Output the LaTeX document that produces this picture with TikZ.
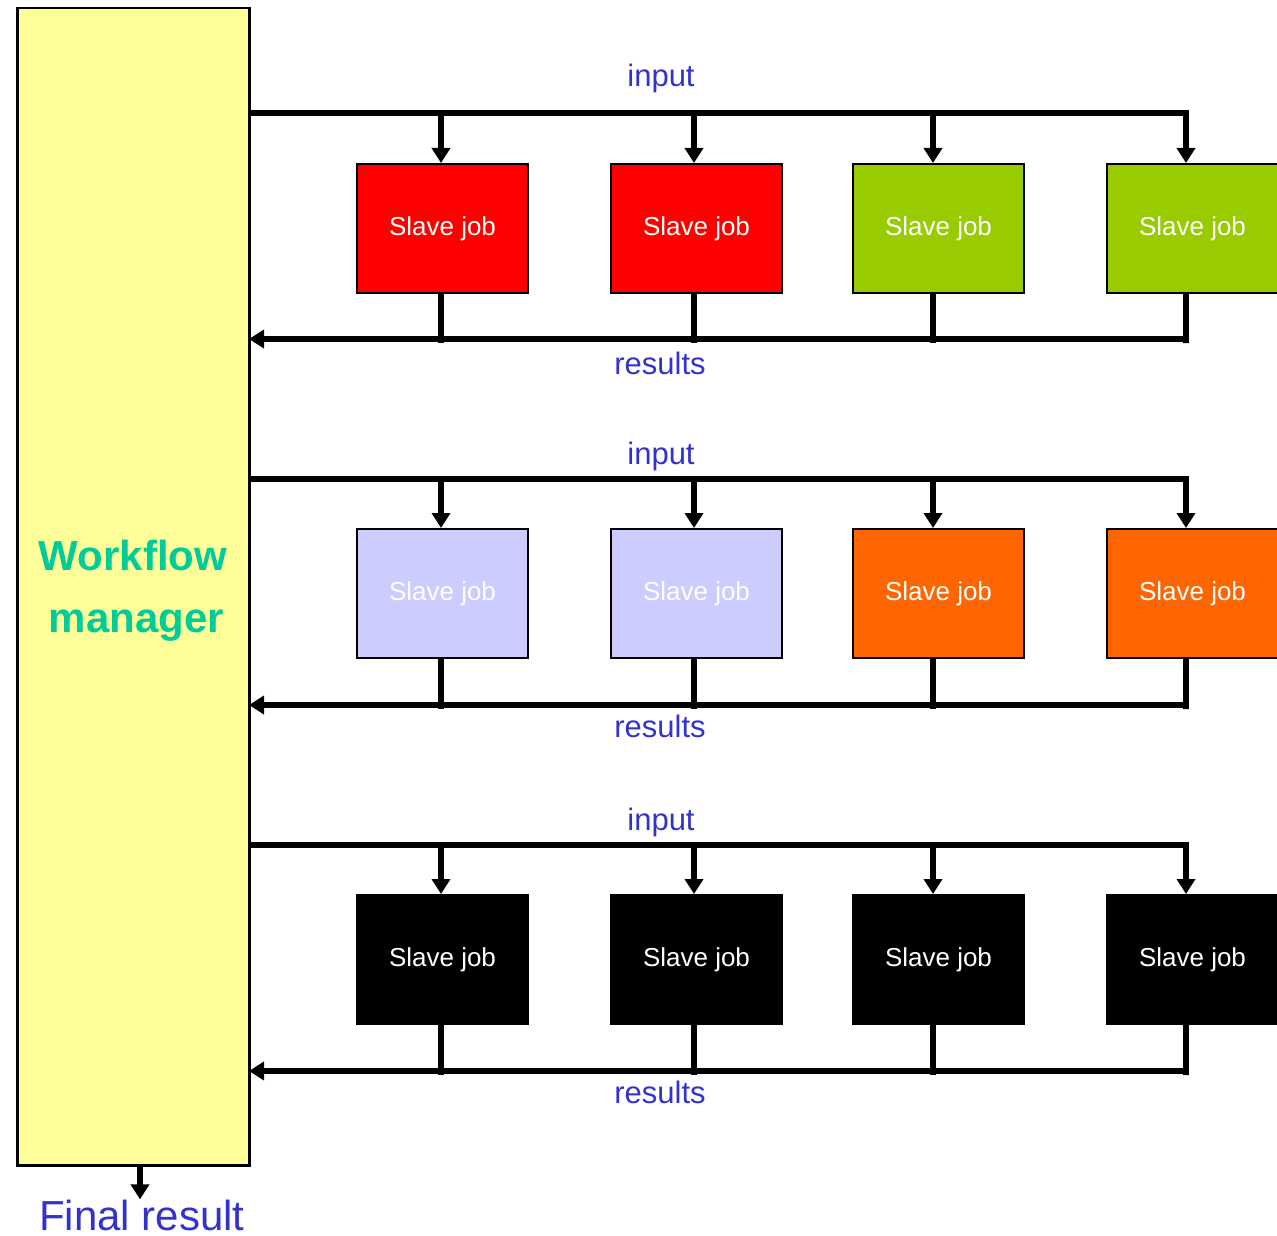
\documentclass[tikz,border=0pt]{standalone}
\usepackage{fontspec}
\setmainfont{Liberation Sans}
\usetikzlibrary{arrows.meta}
\definecolor{wmfill}{HTML}{FFFF99}
\definecolor{wmtext}{HTML}{00CC99}
\definecolor{lblue}{HTML}{3333CC}
\definecolor{jred}{HTML}{FF0000}
\definecolor{jgreen}{HTML}{99CC00}
\definecolor{jlav}{HTML}{CCCCFF}
\definecolor{jorange}{HTML}{FF6600}
\begin{document}
\begin{tikzpicture}[x=1pt,y=-1pt,
  job/.style={draw=black,line width=2pt,minimum width=171pt,minimum height=129pt,inner sep=0pt,
    text=white,font=\fontsize{26}{30}\selectfont},
  bus/.style={line width=5.5pt,line join=miter},
  arr/.style={bus,-{Triangle[width=18pt,length=15pt]}},
  lbl/.style={text=lblue,font=\fontsize{31}{36}\selectfont,inner sep=0pt}]
\useasboundingbox (0,0) rectangle (1277,1236);
% workflow manager
\node[draw=black,line width=2.5pt,fill=wmfill,minimum width=232pt,minimum height=1157pt,inner sep=0pt,anchor=north west] (wm) at (16,7) {};
\node[text=wmtext,font=\fontsize{42}{62}\selectfont\bfseries,align=center] (wmt) at (133,591) {Workflow\\ \,manager};
% column x positions for connectors
\coordinate (c1) at (441,0);
\coordinate (c2) at (694,0);
\coordinate (c3) at (933,0);
\coordinate (c4) at (1186,0);
% rows
\foreach \r/\ib/\rb/\bt/\il/\rl/\fa/\fb/\fc/\fd in {
  1/113/339/162/78/363/jred/jred/jgreen/jgreen,
  2/479/705/527/456/726/jlav/jlav/jorange/jorange,
  3/845/1071/893/822/1092/black/black/black/black}{
  \coordinate (in\r) at (249,\ib);
  \coordinate (res\r) at (249,\rb);
  \node[job,fill=\fa,anchor=north west] (s\r1) at (356,\bt+1) {Slave job};
  \node[job,fill=\fb,anchor=north west] (s\r2) at (610,\bt+1) {Slave job};
  \node[job,fill=\fc,anchor=north west] (s\r3) at (852,\bt+1) {Slave job};
  \node[job,fill=\fd,anchor=north west] (s\r4) at (1106,\bt+1) {Slave job};
  \node[lbl] (il\r) at (661,\il) {input};
  \node[lbl] (rl\r) at (660,\rl) {results};
  % input bus
  \draw[arr] (in\r) -- (c4 |- in\r) -- (c4 |- s\r4.north);
  \foreach \k in {1,2,3}{
    \draw[arr] (c\k |- in\r) -- (c\k |- s\r\k.north);
  }
  % results bus
  \draw[arr] (c4 |- s\r4.south) -- ([yshift=-4pt]c4 |- res\r) -- (c4 |- res\r) -- (res\r);
  \foreach \k in {1,2,3}{
    \draw[bus] (c\k |- s\r\k.south) -- ([yshift=-4pt]c\k |- res\r);
  }
}
% final result
\node[lbl,font=\fontsize{42}{48}\selectfont,anchor=base] (fr) at (142,1230) {Final result};
\draw[arr] (140,1165) -- (fr.north -| 140,0);
\end{tikzpicture}
\end{document}
